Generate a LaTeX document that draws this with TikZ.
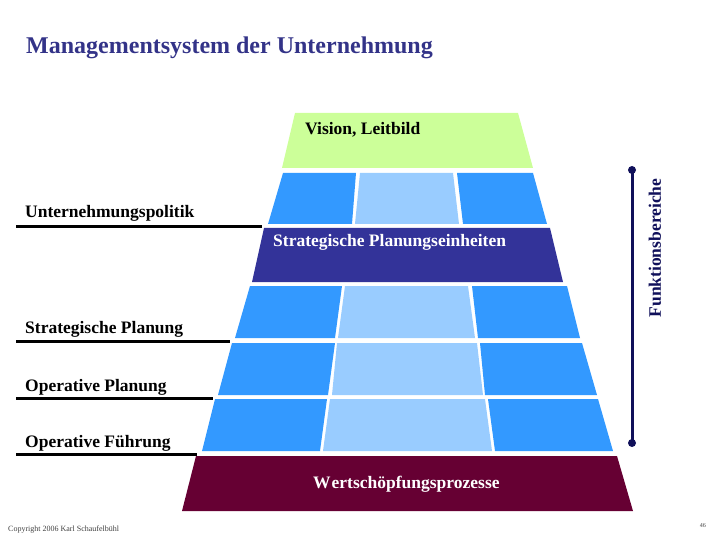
\documentclass[tikz,border=0pt]{standalone}
\usepackage{fontspec}
\setmainfont{Liberation Serif}
\usetikzlibrary{calc,positioning}
\definecolor{titleblue}{HTML}{333388}
\definecolor{vgreen}{HTML}{CCFF99}
\definecolor{cblue}{HTML}{3399FF}
\definecolor{clight}{HTML}{99CCFF}
\definecolor{speblue}{HTML}{333399}
\definecolor{wmaroon}{HTML}{660033}
\definecolor{fnavy}{HTML}{10105A}
\tikzset{band/.style={draw=none},
  lbl/.style={anchor=base west, inner sep=0pt, font=\fontsize{17.5}{20}\selectfont\bfseries},
  inlbl/.style={lbl, text=white},
  bar/.style={line width=3pt},
  fline/.style={draw=fnavy, line width=3pt}}

\begin{document}
\begin{tikzpicture}[x=1pt, y=-1pt]
  \useasboundingbox (0,0) rectangle (720,540);
  % title
  \node[anchor=base west, inner sep=0pt, text=titleblue, font=\fontsize{24}{28}\selectfont\bfseries] (title) at (26,54) {Managementsystem der Unternehmung};
  % top and bottom bands
  \fill[vgreen] (295,113) -- (518,113) -- (533,168) -- (282,168) -- cycle;
  \fill[speblue] (264,228) -- (550,228) -- (563,282) -- (252,282) -- cycle;
  \fill[wmaroon] (196,456) -- (617,456) -- (633,511) -- (182,511) -- cycle;
  % cells: top y / bottom y / top left / top right / bottom right / bottom left / colour
  \foreach \yt/\yb/\xa/\xb/\xc/\xd/\col in {
      173/224/283/356/352/268/cblue, 173/224/360/453/459/355/clight, 173/224/457/533/547/463/cblue,
      286/338/250/342/335/235/cblue, 286/338/345/468/475/338/clight, 286/338/472/567/580/478/cblue,
      343/395/232/335/328/218/cblue, 343/395/337/477/483/332/clight, 343/395/480/582/597/485/cblue,
      399/451/215/327/320/202/cblue, 399/451/330/485/492/323/clight, 399/451/488/598/613/495/cblue}
    \fill[\col] (\xa,\yt) -- (\xb,\yt) -- (\xc,\yb) -- (\xd,\yb) -- cycle;
  % band labels
  \node[lbl] (vision) at (305,135) {Vision, Leitbild};
  \node[inlbl] (spe) at (273,247) {Strategische Planungseinheiten};
  \node[inlbl] (wsp) at (313,488) {W\kern1pt ertsch\"opfungsprozesse};
  % level labels with bars
  \node[lbl] (upol) at (25,218) {Unternehmungspolitik};
  \node[lbl] (splan) at (25,333) {Strategische Planung};
  \node[lbl] (oplan) at (25,391) {Operative Planung};
  \node[lbl] (ofuehr) at (25,447) {Operative F\"uhrung};
  \draw[bar] (16,227) -- (262,227);
  \draw[bar] (16,341) -- (230,341);
  \draw[bar] (16,398) -- (213,398);
  \draw[bar] (16,454) -- (197,454);
  % functional areas
  \coordinate (fTop) at (632,170);
  \coordinate (fBot) at (632,443);
  \draw[fline] (fTop) -- (fBot);
  \foreach \p in {fTop,fBot}{\fill[fnavy] (\p) circle (4);}
  \node[lbl, anchor=center, rotate=90, text=fnavy] (fb) at (655,248) {Funktionsbereiche};
  % footer
  \node[anchor=base west, inner sep=0pt, text=black!75, font=\fontsize{8}{9}\selectfont] (copy) at (8,531) {Copyright 2006 Karl Schaufelb\"uhl};
  \node[anchor=base east, inner sep=0pt, text=black!75, font=\fontsize{6}{7}\selectfont] (page) at (706,527) {46};
\end{tikzpicture}
\end{document}
